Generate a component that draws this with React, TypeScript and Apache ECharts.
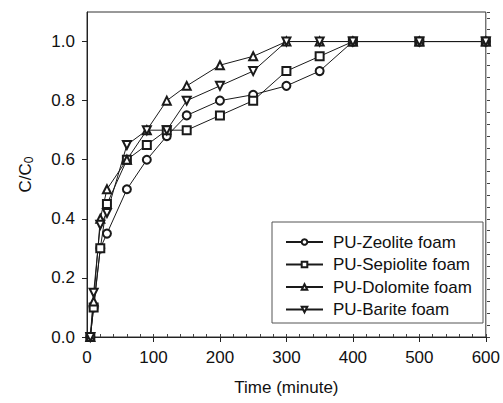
import React, { useEffect, useRef } from "react";
import * as echarts from "echarts";

const times = [5, 10, 20, 30, 60, 90, 120, 150, 200, 250, 300, 350, 400, 500, 600];
const zeolite = [0, 0.1, 0.3, 0.35, 0.5, 0.6, 0.68, 0.75, 0.8, 0.82, 0.85, 0.9, 1.0, 1.0, 1.0];
const sepiolite = [0, 0.1, 0.3, 0.45, 0.6, 0.65, 0.7, 0.7, 0.75, 0.8, 0.9, 0.95, 1.0, 1.0, 1.0];
const dolomite = [0, 0.12, 0.4, 0.5, 0.6, 0.7, 0.8, 0.85, 0.92, 0.95, 1.0, 1.0, 1.0, 1.0, 1.0];
const barite = [0, 0.15, 0.38, 0.42, 0.65, 0.7, 0.7, 0.8, 0.85, 0.9, 1.0, 1.0, 1.0, 1.0, 1.0];
const seriesNames = ["PU-Zeolite foam", "PU-Sepiolite foam", "PU-Dolomite foam", "PU-Barite foam"];
const yTicks = [0, 0.2, 0.4, 0.6, 0.8, 1.0];

const FONT = "'Liberation Sans', Arial, sans-serif";
const INK = "#1a1a1a";

export default function App() {
  const ref = useRef<HTMLDivElement>(null);
  useEffect(() => {
    if (!ref.current) return;
    const chart = echarts.init(ref.current, null, { renderer: "svg" });
    const mk = (name: string, vals: number[], symbol: string, rotate = 0) => ({
      name,
      type: "line",
      data: times.map((t, i) => [t, vals[i]]),
      symbol,
      symbolSize: 8,
      symbolRotate: rotate,
      color: INK,
      lineStyle: { color: INK, width: 1 },
      itemStyle: { color: INK, borderColor: INK, borderWidth: 1 },
      z: 3,
    });
    chart.setOption({
      animation: false,
      backgroundColor: "#fff",
      textStyle: { fontFamily: FONT },
      grid: {
        left: 87,
        right: 16,
        top: 12,
        bottom: 66,
        show: true,
        borderColor: "#333",
        borderWidth: 1,
        backgroundColor: "transparent",
      },
      xAxis: [
        {
          type: "value",
          min: 0,
          max: 600,
          interval: 100,
          position: "bottom",
          axisLine: { show: true, lineStyle: { color: "#222", width: 1 } },
          axisTick: { show: true, length: 5, lineStyle: { color: "#222" } },
          axisLabel: { fontSize: 17, color: "#111", margin: 12, fontFamily: FONT },
          splitLine: { show: false },
          name: "Time (minute)",
          nameLocation: "middle",
          nameGap: 42,
          nameTextStyle: { fontSize: 17, color: "#111", fontFamily: FONT },
        },
        {
          type: "value",
          min: 0,
          max: 600,
          interval: 20,
          position: "top",
          offset: -325,
          axisLine: { show: false },
          axisTick: { show: true, length: 3, lineStyle: { color: "#444" } },
          axisLabel: { show: false },
          splitLine: { show: false },
        },
      ],
      yAxis: [
        {
          type: "value",
          min: 0,
          max: 1.1,
          interval: 0.2,
          position: "left",
          axisLine: { show: true, lineStyle: { color: "#222", width: 1 } },
          axisTick: { show: true, length: 5, customValues: yTicks, lineStyle: { color: "#222" } },
          axisLabel: {
            fontSize: 17,
            color: "#111",
            margin: 12,
            fontFamily: FONT,
            showMaxLabel: false,
            formatter: (v: number) => v.toFixed(1),
          },
          splitLine: { show: false },
          name: "C/C{s|0}",
          nameLocation: "middle",
          nameGap: 52,
          nameTextStyle: {
            fontSize: 17,
            color: "#111",
            fontFamily: FONT,
            rich: { s: { fontSize: 12, verticalAlign: "bottom", padding: [8, 0, 0, 0], color: "#111", fontFamily: FONT } },
          },
        },
        {
          type: "value",
          min: 0,
          max: 1.1,
          interval: 0.04,
          position: "right",
          offset: -400,
          axisLine: { show: false },
          axisTick: { show: true, length: 3, lineStyle: { color: "#444" } },
          axisLabel: { show: false },
          splitLine: { show: false },
        },
      ],
      legend: {
        orient: "vertical",
        left: 285,
        top: 232,
        padding: 0,
        itemWidth: 37,
        itemHeight: 7,
        itemGap: 2.5,
        data: seriesNames,
        textStyle: { fontSize: 17, color: "#111", fontFamily: FONT, lineHeight: 20, padding: [0, 0, 0, 5] },
      },
      graphic: [
        {
          type: "rect",
          shape: { x: 272, y: 222, width: 211, height: 101 },
          style: { fill: "transparent", stroke: "#555", lineWidth: 1 },
          z: 1,
        },
      ],
      series: [
        mk(seriesNames[0], zeolite, "emptyCircle"),
        mk(seriesNames[1], sepiolite, "emptyRect"),
        mk(seriesNames[2], dolomite, "emptyTriangle"),
        mk(seriesNames[3], barite, "emptyTriangle", 180),
      ],
    });
    return () => chart.dispose();
  }, []);
  return <div ref={ref} style={{ position: "fixed", left: 0, top: 0, width: 503, height: 403 }} />;
}
